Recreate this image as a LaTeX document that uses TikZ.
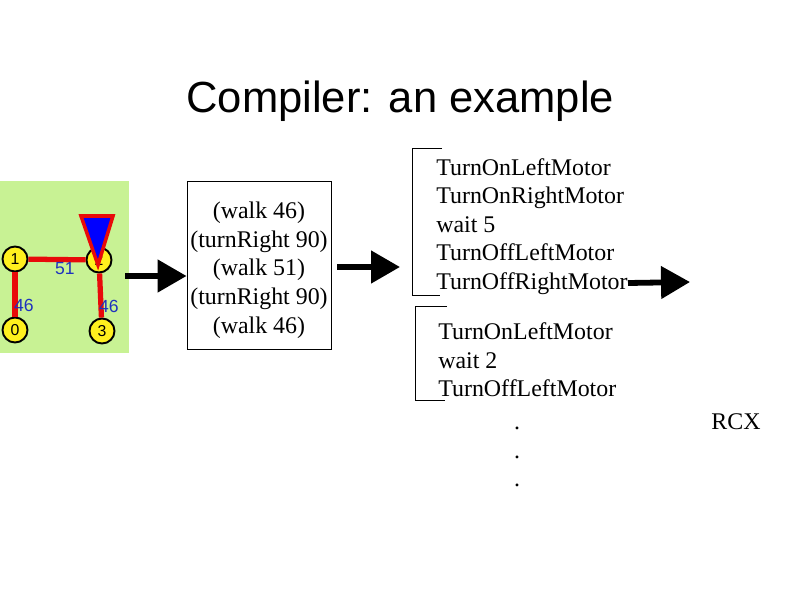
\documentclass[tikz,border=0pt]{standalone}
\usepackage{fontspec}
\setmainfont{Liberation Serif}
\newfontfamily\titlefont{Liberation Sans}
\usetikzlibrary{arrows.meta}
\definecolor{mapgreen}{RGB}{200,242,148}
\definecolor{edgered}{RGB}{232,10,10}
\definecolor{labelblue}{RGB}{30,50,190}
\definecolor{vertexyellow}{RGB}{255,240,30}
\tikzset{
  vertex/.style={circle, draw=black, line width=1.1pt, fill=vertexyellow, minimum size=0.5cm, inner sep=0pt, font=\titlefont\fontsize{9}{9}\selectfont},
  edge/.style={edgered, line width=3pt},
  weight/.style={labelblue, inner sep=0pt, font=\titlefont\fontsize{10}{10}\selectfont},
  code/.style={inner sep=0pt, align=left, font=\fontsize{13.6}{16.3}\selectfont},
  bigarrow/.style={line width=3.3pt, -{Triangle[length=16.5pt, width=18pt]}},
  bracket/.style={line width=0.5pt}
}
\begin{document}
\begin{tikzpicture}[x=0.02cm, y=-0.02cm]
    \useasboundingbox (0,0) rectangle (794,595);
    \node[inner sep=0pt, anchor=base west, font=\titlefont\fontsize{24.8}{26}\selectfont] (title) at (186,112) {Compiler: an example};
    % map
    \fill[mapgreen] (0,181) rectangle (129,353);
    \node[vertex] (v1) at (15,259) {1};
    \node[vertex] (v2) at (99,260) {2};
    \node[vertex] (v0) at (15,330) {0};
    \node[vertex] (v3) at (102,331) {3};
    \draw[edge] (v1) -- (v2);
    \draw[edge] (v1) -- (v0);
    \draw[edge] (v2) -- (v3);
    \node[weight] (w51) at (65,269) {51};
    \node[weight] (w46a) at (24,305) {46};
    \node[weight] (w46b) at (109,306) {46};
    \draw[edgered, line width=2pt, fill=blue] (81,216) -- (113,216) -- (98,265) -- cycle;
    % program
    \node[draw, line width=0.5pt, minimum width=2.88cm, minimum height=3.36cm, inner sep=0pt] (prog) at (259,265) {};
    \node[code, align=center] (steps) at (259,270) {(walk 46)\\(turnRight 90)\\(walk 51)\\(turnRight 90)\\(walk 46)};
    % motor commands
    \node[code, anchor=west] (first) at (436,226.5) {TurnOnLeftMotor\\TurnOnRightMotor\\wait 5\\TurnOffLeftMotor\\TurnOffRightMotor};
    \node[code, anchor=west] (second) at (438,360) {TurnOnLeftMotor\\wait 2\\TurnOffLeftMotor};
    \draw[bracket] (442,148) -- (412,148) -- (412,295) -- (440,295);
    \draw[bracket] (447,306) -- (415,306) -- (415,400) -- (445,400);
    \node[code, align=center] (dots) at (517,457) {.\\.\\.};
    \node[code] (rcx) at (736,422) {RCX};
    % arrows
    \coordinate (a1) at (125,276);
    \coordinate (a2) at (337,267);
    \coordinate (b2) at (400,267);
    \coordinate (a3) at (628,283);
    \coordinate (b3) at (690,282);
    \draw[bigarrow] (a1) -- (prog.west |- a1);
    \draw[bigarrow] (a2) -- (b2);
    \draw[bigarrow] (a3) -- (b3);
\end{tikzpicture}
\end{document}
